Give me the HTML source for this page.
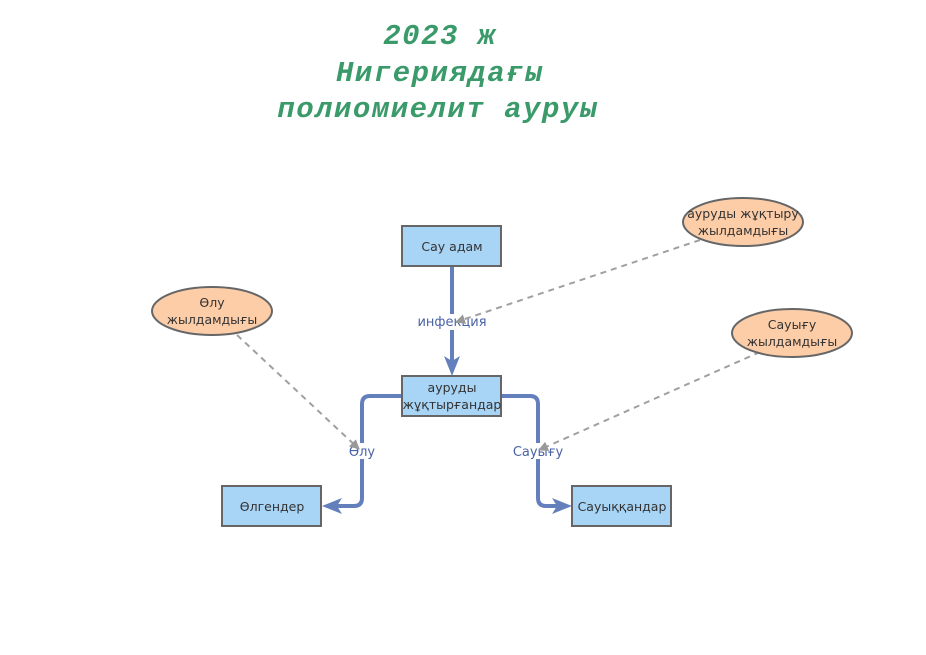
<!DOCTYPE html>
<html><head><meta charset="utf-8"><style>
html,body{margin:0;padding:0;background:#fff;}
svg{display:block;}
.t{font-family:"Liberation Mono",monospace;font-weight:bold;font-style:italic;font-size:29px;letter-spacing:1.5px;fill:#3a9a6a;text-anchor:middle;}
.n{font-family:"DejaVu Sans","Liberation Sans",sans-serif;font-size:12.5px;fill:#333;text-anchor:middle;}
.l{font-family:"DejaVu Sans","Liberation Sans",sans-serif;font-size:13px;fill:#4a63a8;text-anchor:middle;}
</style></head><body>
<svg width="926" height="655" viewBox="0 0 926 655" xmlns="http://www.w3.org/2000/svg">
<defs>
<marker id="g" viewBox="0 0 10 10" refX="9" refY="5" markerWidth="5" markerHeight="5" orient="auto"><path d="M0,0 L10,5 L0,10 z" fill="#999"/></marker>
</defs>
<text class="t" x="440" y="44">2023 ж</text>
<text class="t" x="440" y="81">Нигериядағы</text>
<text class="t" x="438" y="117">полиомиелит ауруы</text>

<g stroke="#6480bc" stroke-width="4" fill="none">
<line x1="452" y1="266" x2="452" y2="362"/>
<path d="M402,396 H370 Q362,396 362,404 V498 Q362,506 354,506 H336"/>
<path d="M501,396 H530 Q538,396 538,404 V498 Q538,506 546,506 H558"/>
</g>
<g fill="#6480bc">
<path d="M444,356 L452,376 L460,356 L452,361 z"/>
<path d="M342,498 L322,506 L342,514 L337,506 z"/>
<path d="M552,498 L572,506 L552,514 L557,506 z"/>
</g>
<rect x="418" y="314" width="68" height="16" fill="#fff"/>
<text class="l" x="452" y="326">инфекция</text>
<rect x="346" y="443" width="32" height="16" fill="#fff"/>
<text class="l" x="362" y="456">Өлу</text>
<rect x="512" y="443" width="52" height="16" fill="#fff"/>
<text class="l" x="538" y="456">Сауығу</text>

<g stroke="#a0a0a0" stroke-width="2" stroke-dasharray="6,5" fill="none">
<line x1="237" y1="335" x2="359" y2="449" marker-end="url(#g)"/>
<line x1="700" y1="240" x2="456" y2="322" marker-end="url(#g)"/>
<line x1="760" y1="352" x2="539" y2="450" marker-end="url(#g)"/>
</g>

<g fill="#a8d4f6" stroke="#666" stroke-width="2">
<rect x="402" y="226" width="99" height="40"/>
<rect x="402" y="376" width="99" height="40"/>
<rect x="222" y="486" width="99" height="40"/>
<rect x="572" y="486" width="99" height="40"/>
</g>
<text class="n" x="452" y="251">Сау адам</text>
<text class="n" x="452" y="392">ауруды</text>
<text class="n" x="452" y="409">жұқтырғандар</text>
<text class="n" x="272" y="511">Өлгендер</text>
<text class="n" x="622" y="511">Сауыққандар</text>

<g fill="#fdcda8" stroke="#666" stroke-width="2">
<ellipse cx="212" cy="311" rx="60" ry="24"/>
<ellipse cx="743" cy="222" rx="60" ry="24"/>
<ellipse cx="792" cy="333" rx="60" ry="24"/>
</g>
<text class="n" x="212" y="307">Өлу</text>
<text class="n" x="212" y="324">жылдамдығы</text>
<text class="n" x="743" y="218">ауруды жұқтыру</text>
<text class="n" x="743" y="235">жылдамдығы</text>
<text class="n" x="792" y="329">Сауығу</text>
<text class="n" x="792" y="346">жылдамдығы</text>
</svg>
</body></html>
